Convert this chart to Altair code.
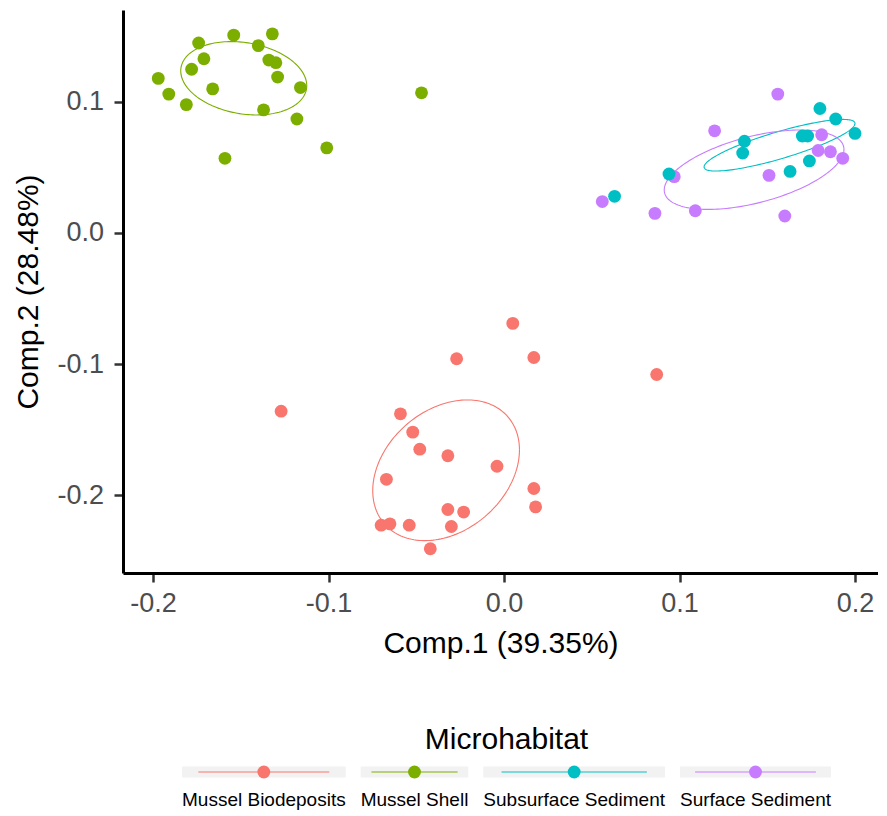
import altair as alt
import numpy as np
import pandas as pd

# ---------------- data ----------------
groups = ["Mussel Biodeposits", "Mussel Shell", "Subsurface Sediment", "Surface Sediment"]
colors = ["#F8766D", "#7CAE00", "#00BFC4", "#C77CFF"]

bio_x = [0.005, -0.027, 0.017, 0.087, -0.127, -0.059, -0.052, -0.048, -0.032, -0.004,
         -0.067, 0.017, 0.018, -0.032, -0.023, -0.070, -0.065, -0.054, -0.030, -0.042]
bio_y = [-0.069, -0.096, -0.095, -0.108, -0.136, -0.138, -0.152, -0.165, -0.170, -0.178,
         -0.188, -0.195, -0.209, -0.211, -0.213, -0.223, -0.222, -0.223, -0.224, -0.241]

shell_x = [-0.174, -0.154, -0.132, -0.140, -0.171, -0.178, -0.134, -0.130, -0.129, -0.197,
           -0.191, -0.181, -0.166, -0.116, -0.137, -0.118, -0.047, -0.159, -0.101]
shell_y = [0.145, 0.151, 0.152, 0.143, 0.133, 0.125, 0.132, 0.130, 0.119, 0.118,
           0.106, 0.098, 0.110, 0.111, 0.094, 0.087, 0.107, 0.057, 0.065]

sub_x = [0.180, 0.189, 0.200, 0.170, 0.173, 0.137, 0.136, 0.174, 0.163, 0.094, 0.063]
sub_y = [0.095, 0.087, 0.076, 0.074, 0.074, 0.070, 0.061, 0.055, 0.047, 0.045, 0.028]

surf_x = [0.156, 0.120, 0.181, 0.179, 0.186, 0.193, 0.151, 0.097, 0.056, 0.086, 0.109, 0.160]
surf_y = [0.106, 0.078, 0.075, 0.063, 0.062, 0.057, 0.044, 0.043, 0.024, 0.015, 0.017, 0.013]

# ellipse parameters per group (centre, x half-extent, y half-extent, tilt cos)
ell_cx = [-0.0330, -0.1483, 0.1570, 0.1425]
ell_cy = [-0.1811, 0.1181, 0.0670, 0.0483]
ell_rx = [0.0418, 0.0359, 0.0430, 0.0512]
ell_ry = [0.0537, 0.0280, 0.0197, 0.0303]
ell_cos = [0.29, -0.20, 0.84, 0.51]

x_ticks = [-0.2, -0.1, 0.0, 0.1, 0.2]
y_ticks = [-0.2, -0.1, 0.0, 0.1]
x_title = "Comp.1 (39.35%)"
y_title = "Comp.2 (28.48%)"
legend_title = "Microhabitat"

# ---------------- tables ----------------
pts = pd.concat([
    pd.DataFrame({"x": bio_x, "y": bio_y, "group": groups[0]}),
    pd.DataFrame({"x": shell_x, "y": shell_y, "group": groups[1]}),
    pd.DataFrame({"x": surf_x, "y": surf_y, "group": groups[3]}),
    pd.DataFrame({"x": sub_x, "y": sub_y, "group": groups[2]}),
], ignore_index=True)

t = np.linspace(0, 2 * np.pi, 181)
ell_rows = []
for g, cx, cy, rx, ry, c in zip(groups, ell_cx, ell_cy, ell_rx, ell_ry, ell_cos):
    phi = np.arccos(c)
    ell_rows.append(pd.DataFrame({
        "x": cx + rx * np.cos(t),
        "y": cy + ry * np.cos(t - phi),
        "group": g,
        "i": np.arange(len(t)),
    }))
ell = pd.concat(ell_rows, ignore_index=True)

W, H = 755, 563
FONT = "Liberation Sans"
LEG_CENTER = 383.5

# legend key widths = label text widths (Arial metrics, 19px)
arial = {"M": 833, "u": 556, "s": 500, "e": 556, "l": 222, " ": 278, "B": 667, "i": 222,
         "o": 556, "d": 556, "p": 556, "t": 278, "S": 667, "h": 556, "b": 556, "r": 333,
         "f": 278, "a": 556, "c": 500, "n": 556, "m": 833}
lab_fs = 19
widths = [sum(arial.get(ch, 556) for ch in g) / 1000 * lab_fs for g in groups]
gap = 15
total = sum(widths) + gap * (len(widths) - 1)
start0 = LEG_CENTER - total / 2
starts, pos = [], start0
for w in widths:
    starts.append(pos)
    pos += w + gap
leg = pd.DataFrame({
    "group": groups,
    "start": starts,
    "end": [s + w for s, w in zip(starts, widths)],
    "ls": [s + 0.1 * w for s, w in zip(starts, widths)],
    "le": [s + 0.9 * w for s, w in zip(starts, widths)],
    "mid": [s + 0.5 * w for s, w in zip(starts, widths)],
})
leg_title = pd.DataFrame({"t": [legend_title], "c": [LEG_CENTER]})

# ---------------- chart ----------------
cscale = alt.Scale(domain=groups, range=colors)
xscale = alt.Scale(domain=[-0.2171, 0.2131], nice=False, zero=False)
yscale = alt.Scale(domain=[-0.2595, 0.1702], nice=False, zero=False)
lab_expr = "datum.value < 0 ? '-' + format(-datum.value, '.1f') : format(datum.value, '.1f')"

axis_common = dict(grid=False, domainColor="black", domainWidth=3, tickColor="#333333",
                   tickWidth=2.5, tickSize=9, labelFont=FONT, labelFontSize=27,
                   labelColor="#4D4D4D", titleFont=FONT, titleFontSize=30,
                   titleColor="black", titleFontWeight="normal", labelExpr=lab_expr)
xaxis = alt.Axis(values=x_ticks, labelPadding=8, titlePadding=12, **axis_common)
yaxis = alt.Axis(values=y_ticks, labelPadding=10.5, titlePadding=13, **axis_common)

PT = 165
ell_layer = alt.Chart(ell).mark_line(strokeWidth=1.1).encode(
    x=alt.X("x:Q", scale=xscale, axis=xaxis, title=x_title),
    y=alt.Y("y:Q", scale=yscale, axis=yaxis, title=y_title),
    color=alt.Color("group:N", scale=cscale, legend=None),
    detail="group:N",
    order="i:Q",
)
pt_layer = alt.Chart(pts).mark_circle(size=PT, opacity=1).encode(
    x=alt.X("x:Q", scale=xscale, axis=xaxis, title=x_title),
    y=alt.Y("y:Q", scale=yscale, axis=yaxis, title=y_title),
    color=alt.Color("group:N", scale=cscale, legend=None),
)
data_layer = alt.layer(ell_layer, pt_layer)

lscale = alt.Scale(domain=[0, W], nice=False, zero=False)
key_y = 762
rects = alt.Chart(leg).mark_rect(color="#F2F2F2").encode(
    x=alt.X("start:Q", scale=lscale, axis=None), x2="end:Q",
    y=alt.value(key_y - 5.5), y2=alt.value(key_y + 5.5),
)
lines = alt.Chart(leg).mark_rule(strokeWidth=1.1).encode(
    x=alt.X("ls:Q", scale=lscale, axis=None), x2="le:Q",
    y=alt.value(key_y),
    color=alt.Color("group:N", scale=cscale, legend=None),
)
dots = alt.Chart(leg).mark_circle(size=PT, opacity=1).encode(
    x=alt.X("mid:Q", scale=lscale, axis=None),
    y=alt.value(key_y),
    color=alt.Color("group:N", scale=cscale, legend=None),
)
labels = alt.Chart(leg).mark_text(align="left", baseline="alphabetic", font=FONT,
                                  fontSize=lab_fs, color="black").encode(
    x=alt.X("start:Q", scale=lscale, axis=None),
    y=alt.value(796),
    text="group:N",
)
ltitle = alt.Chart(leg_title).mark_text(align="center", baseline="alphabetic", font=FONT,
                                        fontSize=30, color="black").encode(
    x=alt.X("c:Q", scale=lscale, axis=None),
    y=alt.value(739),
    text="t:N",
)
legend_layer = alt.layer(rects, lines, dots, labels, ltitle)

chart = alt.layer(data_layer, legend_layer).resolve_scale(x="independent").properties(
    width=W, height=H,
    padding={"left": 5, "top": 2, "right": 0, "bottom": 0},
).configure_view(stroke=None)

chart.save("out.html", embed_options={"renderer": "svg", "actions": False})
